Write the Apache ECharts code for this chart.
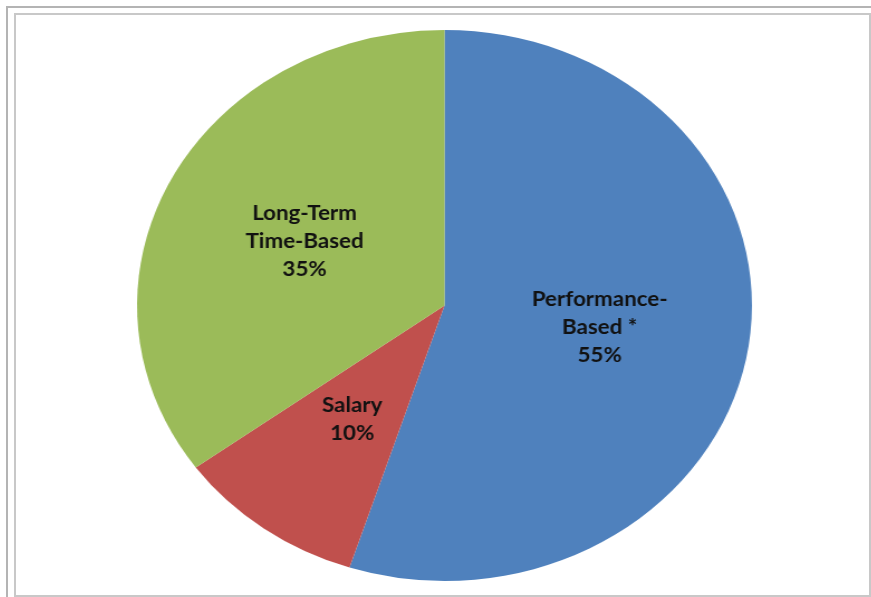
<!DOCTYPE html>
<html>
<head>
<meta charset="utf-8">
<script src="https://cdn.jsdelivr.net/npm/echarts@6/dist/echarts.min.js"></script>
<style>
    html, body {
        margin: 0;
        padding: 0;
        background: #ffffff;
        overflow: hidden;
    }
    .frame-outer {
        position: absolute;
        left: 6px;
        top: 6px;
        width: 880px;
        height: 600px;
        border: 2px solid #b4b4b4;
        box-sizing: border-box;
    }
    .frame-inner {
        position: absolute;
        left: 14px;
        top: 13px;
        width: 857px;
        height: 584px;
        border: 2px solid #c8c8c8;
        box-sizing: border-box;
        background: #ffffff;
    }
    #main {
        position: absolute;
        left: 0;
        top: 0;
        width: 871px;
        height: 597px;
        /* the original pie is drawn as an ellipse */
        transform: scaleX(1.116);
        transform-origin: 444.5px 0;
    }
</style>
</head>
<body>
<div class="frame-outer"></div>
<div class="frame-inner"></div>
<div id="main"></div>
<script>
// pay mix
const names = ["Performance-\nBased *", "Salary", "Long-Term\nTime-Based"];
const values = [55, 10, 35];
const colors = ["#4f81bd", "#c0504d", "#9bbb59"];

const chart = echarts.init(document.getElementById("main"));

const data = names.map((n, i) => ({
    name: n,
    value: values[i],
    itemStyle: { color: colors[i] },
}));

chart.setOption({
    animation: false,
    series: [
        {
            type: "pie",
            center: [444.5, 305.5],
            radius: [0, 275.5],
            startAngle: 90,
            clockwise: true,
            itemStyle: { borderWidth: 0 },
            label: {
                show: true,
                position: "inside",
                formatter: "{b}\n{d}%",
                color: "#111111",
                fontFamily: "Lato",
                fontWeight: "bold",
                fontSize: 20,
                lineHeight: 28,
                align: "center",
            },
            labelLine: { show: false },
            emphasis: { disabled: true },
            data: data,
        },
    ],
});
</script>
</body>
</html>
